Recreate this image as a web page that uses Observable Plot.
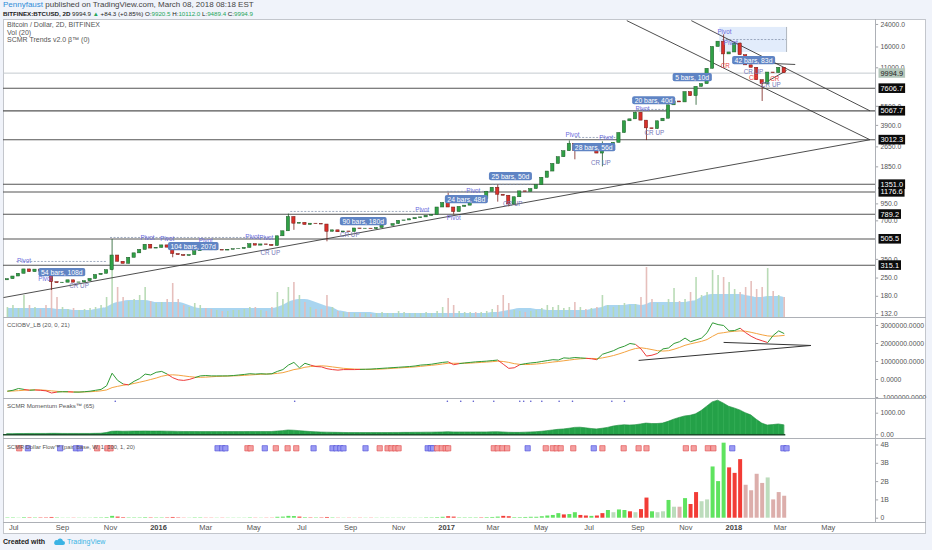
<!DOCTYPE html>
<html><head><meta charset="utf-8">
<script src="https://cdn.jsdelivr.net/npm/d3@7"></script>
<script src="https://cdn.jsdelivr.net/npm/@observablehq/plot@0.6"></script>
<style>
body{margin:0;background:#f0f3fa;}
#wrap{position:relative;width:932px;height:550px;overflow:hidden;background:#f0f3fa;font-family:"Liberation Sans",Arial,sans-serif;}
#panel{position:absolute;left:3px;top:19px;width:923px;height:515px;background:#fff;border:1px solid #c3c6cc;box-sizing:border-box;}
.sep{position:absolute;left:3px;width:923px;height:1.5px;background:#adb0b6;}
.txt{position:absolute;white-space:nowrap;font-size:7px;line-height:8px;color:#555;}
#wrap svg{background:transparent !important;}
</style></head><body>
<div id="wrap">
  <div class="txt" style="left:3px;top:1px;font-size:8px;color:#444"><span style="color:#2f8cd8">Pennyfaust</span> published on TradingView.com, March 08, 2018 08:18 EST</div>
  <div class="txt" style="left:3px;top:9.5px;font-size:6.2px;color:#222"><b>BITFINEX:BTCUSD, 2D</b> 9994.9 <span style="color:#26a65b">▲</span> +84.3 (+0.85%) O:<span style="color:#26a65b">9920.5</span> H:<span style="color:#26a65b">10112.0</span> L:<span style="color:#26a65b">9489.4</span> C:<span style="color:#26a65b">9994.9</span></div>
  <div id="panel"></div>
  <div id="plots"></div>
  <div class="sep" style="top:316.5px"></div>
  <div class="sep" style="top:397.5px"></div>
  <div class="sep" style="top:437.5px"></div>
  <div class="sep" style="top:521.5px;height:1px"></div>
  <div style="position:absolute;left:875px;top:19px;width:1px;height:503px;background:#adb0b6"></div>
  <div class="txt" style="left:7px;top:21px">Bitcoin / Dollar, 2D, BITFINEX</div>
  <div class="txt" style="left:7px;top:28.5px">Vol (20)</div>
  <div class="txt" style="left:7px;top:36px">SCMR Trends v2.0 β™ (0)</div>
  <div class="txt" style="left:7px;top:320.5px;font-size:6px">CCIOBV_LB (20, 0, 21)</div>
  <div class="txt" style="left:7px;top:401.5px;font-size:6.1px">SCMR Momentum Peaks™ (65)</div>
  <div class="txt" style="left:7px;top:442.5px;font-size:5.8px">SCMR Dollar Flow™ (pair, base, W, 1, 100, 1, 20)</div>
  <div class="txt" style="left:3px;top:538px;color:#222;font-weight:bold">Created with
    <svg width="12" height="8" viewBox="0 0 12 8" style="vertical-align:middle;margin-left:6px"><path d="M3 7h7a2 2 0 0 0 0-4 3 3 0 0 0-5.6-.8A2.2 2.2 0 0 0 3 7z" fill="#3bb3e4"/></svg>
    <span style="color:#3bb3e4;font-weight:normal">TradingView</span></div>
</div>
<script>
// ---------------- DATA ----------------
// weekly candles starting 2015-06-20
const weekStart = "2015-06-20";
const closes = [245,257,270,292,278,291,281,264,232,228,
230,240,230,231,236,246,264,270,288,375,
335,323,360,390,415,455,425,430,450,432,
385,378,372,378,405,438,420,412,413,410,
416,420,422,430,460,448,458,454,445,530,
580,750,665,675,650,665,660,655,575,590,
570,578,573,610,605,608,603,615,640,640,
660,700,705,720,735,745,765,780,890,965,
890,820,900,920,1010,1000,1035,1180,1270,1120,
1100,940,1070,1190,1180,1240,1330,1520,1700,1950,
2200,2450,2800,2450,2700,2480,2550,2350,2700,2750,
2850,3400,4200,4350,4900,4250,3700,3650,4200,4400,
5600,6000,5900,7100,6600,7800,8200,10800,16000,17600,
14000,14500,17000,13800,11500,11000,8800,8200,10100,10000,
11000,9995];
const firstOpen = 240;
const wickWeek = [8,19,30,51,52,58,80,81,89,91,102,103,108,114,116,125,130,133,137];
const wickLow  = [200,285,360,0,590,480,0,780,980,900,0,2100,1850,0,2970,5600,11000,0,6000];
const wickHigh = [0,500,0,790,0,0,1150,0,1330,0,2950,0,2900,4950,0,0,19900,17200,0];

const volume = [10,12,9,22,12,10,8,12,39,20,
10,8,9,7,8,9,10,12,20,57,
30,20,16,18,22,30,16,14,15,18,
34,18,12,10,14,12,9,8,7,6,
6,7,7,8,10,10,7,6,10,25,
18,30,35,22,15,10,8,8,22,10,
6,5,5,4,4,4,3,4,5,4,
4,6,5,4,4,4,5,4,6,10,
19,12,6,5,5,5,5,6,8,12,
22,14,7,6,5,6,7,9,12,10,
12,9,10,15,10,8,9,10,22,12,
10,12,14,12,13,20,50,18,14,12,
18,29,16,18,25,40,22,25,47,42,
40,35,28,25,30,36,28,30,49,26,
22,20];
const volumeMA = [9,9,9,9,9,9,9,9,9,8,
8,8,7,7,7,7,8,9,10,13,
15,16,17,17,17,17,16,15,15,15,
15,15,14,12,10,9,9,9,9,9,
9,9,9,9,9,9,9,9,9,10,
12,15,17,18,18,17,15,13,11,10,
7,6,5,5,5,5,5,4,4,4,
4,4,4,4,4,4,4,4,4,4,
4,4,4,4,4,4,4,4,5,5,
6,7,8,9,9,9,8,8,7,7,
7,7,7,7,7,7,8,9,10,12,
12,12,12,13,13,12,13,15,15,15,
15,15,15,15,16,17,20,22,23,23,
23,23,23,23,22,21,20,20,21,21,
21,20];

// CCIOBV (millions)
const obv = [-0.65,-0.6,-0.5,-0.55,-0.6,-0.58,-0.6,-0.63,-0.75,-0.7,
-0.68,-0.68,-0.7,-0.7,-0.68,-0.65,-0.6,-0.55,-0.35,0.35,
-0.05,-0.25,-0.3,-0.1,0.05,0.3,0.25,0.4,0.45,0.3,
0.1,-0.02,-0.05,0,0.1,0.2,0.22,0.2,0.2,0.2,
0.2,0.22,0.25,0.28,0.32,0.3,0.32,0.3,0.32,0.45,
0.55,0.8,0.95,0.65,0.9,0.8,0.72,0.7,0.6,0.55,
0.52,0.55,0.55,0.55,0.56,0.57,0.58,0.6,0.62,0.64,
0.66,0.68,0.7,0.72,0.75,0.8,0.82,0.85,0.9,0.95,
0.98,0.82,0.88,0.92,0.95,0.98,1.0,1.02,1.05,1.08,
0.85,0.62,0.65,0.82,0.88,0.92,0.95,1.0,1.05,1.1,
1.08,1.2,1.18,1.22,1.2,1.18,1.15,1.1,1.4,1.5,
1.6,1.75,1.85,2.0,1.95,1.7,1.3,1.35,1.45,1.7,
1.75,2.0,2.1,2.3,2.1,2.2,2.3,2.6,3.15,3.05,
3.0,2.7,2.72,2.85,2.6,2.4,2.25,2.15,2.05,2.45,
2.7,2.55];
const obvMA = [-0.65,-0.64,-0.62,-0.6,-0.58,-0.58,-0.58,-0.6,-0.63,-0.66,
-0.68,-0.69,-0.69,-0.7,-0.69,-0.68,-0.66,-0.63,-0.58,-0.45,
-0.38,-0.32,-0.28,-0.22,-0.15,-0.08,0.0,0.08,0.18,0.24,
0.26,0.24,0.2,0.16,0.13,0.12,0.13,0.15,0.17,0.18,
0.19,0.2,0.21,0.23,0.25,0.27,0.29,0.3,0.31,0.34,
0.38,0.46,0.55,0.6,0.68,0.72,0.74,0.76,0.74,0.7,
0.66,0.62,0.6,0.58,0.57,0.56,0.56,0.57,0.58,0.6,
0.62,0.64,0.66,0.68,0.7,0.73,0.76,0.79,0.82,0.86,
0.9,0.9,0.9,0.9,0.91,0.93,0.95,0.97,0.99,1.02,
1.0,0.95,0.88,0.84,0.83,0.84,0.86,0.89,0.93,0.97,
1.0,1.04,1.08,1.12,1.15,1.17,1.17,1.16,1.2,1.26,
1.33,1.42,1.52,1.63,1.72,1.76,1.72,1.66,1.6,1.58,
1.6,1.68,1.78,1.9,1.98,2.05,2.12,2.22,2.4,2.56,
2.6,2.65,2.68,2.7,2.68,2.62,2.55,2.48,2.42,2.4,
2.42,2.45];

const momentum = [30,30,35,35,40,40,40,40,45,45,
40,40,40,40,40,40,45,50,80,140,
150,140,145,150,150,155,150,150,150,145,
140,135,130,130,130,125,125,125,125,125,
125,125,125,125,130,130,130,130,130,150,
170,200,190,170,150,130,115,105,100,95,
90,85,80,80,80,80,80,80,80,80,
85,85,90,90,95,95,100,100,105,110,
120,110,110,110,110,110,110,110,115,120,
110,95,90,90,100,110,120,140,170,200,
230,250,280,320,330,300,270,250,280,320,
380,420,440,430,440,480,520,500,500,520,
600,700,780,850,880,950,1100,1300,1500,1580,
1450,1300,1220,1130,1000,900,700,520,430,450,
480,440];

// Dollar flow (billions), kind: G bright green, R bright red, g faded green, r faded red
const dollarFlow = [0.02,0.02,0.01,0.03,0.02,0.02,0.02,0.02,0.04,0.02,
0.01,0.01,0.01,0.01,0.01,0.01,0.02,0.02,0.03,0.1,
0.06,0.03,0.02,0.02,0.02,0.03,0.02,0.02,0.02,0.02,
0.04,0.02,0.01,0.01,0.02,0.02,0.01,0.01,0.01,0.01,
0.01,0.01,0.01,0.01,0.02,0.01,0.01,0.01,0.01,0.05,
0.06,0.1,0.09,0.06,0.03,0.02,0.02,0.02,0.04,0.02,
0.01,0.01,0.01,0.01,0.01,0.01,0.01,0.01,0.01,0.01,
0.01,0.01,0.01,0.01,0.01,0.01,0.02,0.02,0.03,0.05,
0.08,0.06,0.02,0.02,0.02,0.02,0.02,0.03,0.04,0.06,
0.1,0.08,0.03,0.03,0.04,0.05,0.05,0.08,0.12,0.15,
0.25,0.18,0.2,0.3,0.15,0.12,0.1,0.12,0.25,0.42,
0.3,0.45,0.42,0.35,0.3,0.47,1.1,0.35,0.3,0.35,
0.97,0.6,0.6,1.07,0.75,1.4,0.9,1.0,2.8,2.0,
4.1,2.75,2.45,3.2,1.8,1.5,2.4,1.9,2.2,1.0,
1.4,1.2];
const dollarKind = "GGGGRGRRRG" + "GGRGGGGGGG" + "RRGGGGRGGR" + "RRRGGGRRGR" + "GGGGGRGRRG" +
  "GGGRGRGRRG" + "RGRGRGRGGG" + "GGGGGGGGGG" + "RRGGGGRGGG" + "RRGGGGGGGG" +
  "GRGGRRGRRG" + "gGGRgRRGgg" + "GgrGRRggGG" + "GRRRrrrrgr" + "rr";

const flagDates = ["2015-07-08","2015-07-19","2015-08-29","2015-09-18","2015-09-23","2015-10-15","2015-10-28","2015-11-01",
"2016-03-16","2016-03-22","2016-03-26","2016-04-23","2016-04-27","2016-05-15","2016-05-29","2016-06-13","2016-06-24",
"2016-07-16","2016-08-09","2016-08-14","2016-08-19","2016-08-23","2016-09-20","2016-10-08","2016-10-18","2016-10-23",
"2016-10-28","2016-11-01","2016-12-08","2016-12-12","2016-12-15","2016-12-20","2016-12-26","2016-12-31","2017-01-03",
"2017-03-02","2017-03-07","2017-03-13","2017-03-19","2017-04-14","2017-05-07","2017-05-16","2017-05-21","2017-05-26",
"2017-06-11","2017-07-07","2017-07-18","2017-08-14","2017-09-02","2017-09-12","2017-11-01","2017-11-11","2017-11-29",
"2017-12-06","2017-12-30","2018-03-05","2018-03-09"];
const flagKinds = "rbbbbrrr" + "bbbrrbrrr" + "bbbbbbrrr" + "rrbbbrrrr" + "rrrrbrrrr" + "rbrrrrrrr" + "rbbb";

const momentumDots = ["2015-11-07","2016-06-22","2017-01-02","2017-01-19","2017-02-04","2017-03-02","2017-04-04",
"2017-04-09","2017-04-18","2017-05-02","2017-05-24","2017-06-10","2017-07-30","2017-08-15"];

// price axis
const priceTicks = [24000,16000,11000,5500,3900,2650,1850,950,700,350,250,180,132];
const levels = [7606.7,5067.7,3012.3,1351.0,1176.6,789.2,505.5,315.1];
const lastPrice = 9994.9;

// trend lines [date1, price1, date2, price2]
const trendStart = ["2015-06-18","2017-08-18","2017-11-08","2018-02-19","2018-02-08"];
const trendP1    = [176,25700,25700,11890,8300];
const trendEnd   = ["2018-06-23","2018-06-23","2018-06-23","2018-03-20","2018-03-09"];
const trendP2    = [3012.3,3012.3,5067.7,11680,10490];

// dashed pivot ranges
const pivFrom = ["2015-07-05","2015-11-01","2016-06-17","2017-01-02","2017-02-28","2017-06-14","2017-09-01","2017-12-18"];
const pivTo   = ["2015-10-28","2016-05-22","2016-12-11","2017-02-26","2017-04-19","2017-08-04","2017-10-09","2018-03-09"];
const pivPrice= [337,519,829,1190,1350,3140,5200,18300];

// projection box
const boxFrom = "2017-12-14", boxTo = "2018-03-09", boxLow = 14500, boxHigh = 22740;

// bar count labels
const barDates = ["2015-08-31","2016-02-14","2016-09-17","2017-01-26","2017-03-23","2017-07-07","2017-09-21","2017-11-09","2018-01-26"];
const barPrices = [277,441,692,1028,1556,2622,6100,9250,12550];
const barTexts = ["54 bars, 108d","104 bars, 207d","90 bars, 180d","24 bars, 48d","25 bars, 50d","28 bars, 56d","20 bars, 40d","5 bars, 10d","42 bars, 83d"];

// small annotations
const annDates = ["2015-07-14","2015-08-10","2015-09-22","2015-12-18","2016-01-12","2016-03-01","2016-04-29","2016-05-17","2016-05-22",
"2016-08-31","2016-12-01","2017-01-10","2017-02-04","2017-03-26","2017-06-10","2017-07-23","2017-07-16","2017-09-07","2017-09-22",
"2017-12-20","2017-12-28","2017-12-21","2018-01-26","2018-01-26","2018-02-17","2018-02-22"];
const annPrices = [343,244,215,510,501,483,519,510,396,538,859,731,1188,940,3255,3085,1967,5200,3375,20780,17050,11270,10120,9080,8010,8920];
const annTexts = ["Pivot","Pivot","CR UP","Pivot","Pivot","Pivot","Pivot","Pivot","CR UP","CR UP","Pivot","Pivot","Pivot","CR UP",
"Pivot","Pivot","CR UP","Pivot","CR UP","Pivot","Pivot","CR","CR UP","CR","CR UP","CR"];

const cciTicks = [3,2,1,0,-1];
const momTicks = [1000,0];
const dfTicks = [4,3,2,1,0];
const dateTicks = ["2015-07-01","2015-09-01","2015-11-01","2016-01-01","2016-03-01","2016-05-01","2016-07-01","2016-09-01","2016-11-01",
"2017-01-01","2017-03-01","2017-05-01","2017-07-01","2017-09-01","2017-11-01","2018-01-01","2018-03-01","2018-05-01"];
const dateLabels = ["Jul","Sep","Nov","2016","Mar","May","Jul","Sep","Nov","2017","Mar","May","Jul","Sep","Nov","2018","Mar","May"];

// CCIOBV trend lines
const cciLineStart = ["2017-09-02","2017-12-19"], cciLineV1 = [1.06,2.06];
const cciLineEnd = ["2018-04-09","2018-04-09"], cciLineV2 = [1.89,1.89];

// ---------------- BUILD ----------------
const FONT = "Liberation Sans, Arial, sans-serif";
const AX = 6.8; // axis font size
const D = s => new Date(s + "T00:00:00Z");
const xDomain = [D("2015-06-18"), D("2018-06-30")];
const axisTickEnd = D("2018-07-04");
const w0 = D(weekStart);
const weeks = closes.map((c, i) => {
  const open = i ? closes[i-1] : firstOpen;
  const k = wickWeek.indexOf(i);
  const hi = Math.max(open, c, k >= 0 ? wickHigh[k] : 0);
  const lo = Math.min(open, c, k >= 0 && wickLow[k] ? wickLow[k] : Infinity);
  return {
    date: d3.utcDay.offset(w0, 7*i + 3), open, close: c, hi, lo, up: c >= open,
    vol: volume[i], volMA: volumeMA[i], obv: obv[i], ma: obvMA[i], mom: momentum[i],
    df: dollarFlow[i], kind: dollarKind[i]
  };
});
const base = (h, mt=0, mb=0) => ({width: 932, height: h, marginLeft: 3, marginRight: 57, marginTop: mt, marginBottom: mb,
  x: {type: "utc", domain: xDomain, axis: null},
  style: {background: "transparent", fontFamily: FONT, fontSize: "7px", overflow: "hidden"}});
const tickMark = (arr) => Plot.ruleY(arr, {y: d => d, x1: () => xDomain[1], x2: () => axisTickEnd, stroke: "#8a8d93", strokeWidth: 0.8});
const tickText = (arr, fmt) => Plot.text(arr, {y: d => d, text: fmt, frameAnchor: "right", dx: 5, textAnchor: "start", fill: "#555", fontSize: AX});

// volume overlay (behind price)
const volPlot = Plot.plot({...base(298), y: {domain: [0, 298], axis: null},
  marks: [
    Plot.areaY(weeks, {x: "date", y: "volMA", fill: "#93cbec", fillOpacity: 0.8, curve: "monotone-x"}),
    Plot.ruleX(weeks, {x: "date", y1: 0, y2: "vol", stroke: d => d.up ? "#b5d9b2" : "#e5bcb8", strokeWidth: 1.6, strokeOpacity: 0.95})
  ]});

const trends = trendStart.map((s, i) => ({x1: D(s), y1: trendP1[i], x2: D(trendEnd[i]), y2: trendP2[i]}));
const pivots = pivFrom.map((s, i) => ({x1: D(s), x2: D(pivTo[i]), y: pivPrice[i]}));
const bars = barDates.map((s, i) => ({date: D(s), p: barPrices[i], t: barTexts[i]}));
const anns = annDates.map((s, i) => ({date: D(s), p: annPrices[i], t: annTexts[i]}));
const annColor = t => t === "Pivot" ? "#6b6bdc" : t === "CR" ? "#e84545" : "#7678b8";
const half = 50; // hours half-width of candle body

const mainPlot = Plot.plot({...base(298), y: {type: "log", domain: [122.9, 26240], axis: null},
  marks: [
    Plot.rect([0], {x1: () => D(boxFrom), x2: () => D(boxTo), y1: () => boxLow, y2: () => boxHigh, fill: "#dde9fa", fillOpacity: 0.85}),
    Plot.ruleX([0], {x: () => D(boxTo), y1: () => boxLow, y2: () => boxHigh, stroke: "#9aa3ad", strokeWidth: 0.8}),
    Plot.ruleY(levels, {y: d => d, stroke: "#555", strokeWidth: 1.1}),
    Plot.ruleY([lastPrice], {y: d => d, stroke: "#c5cacf", strokeWidth: 1}),
    Plot.ruleY(pivots, {y: "y", x1: "x1", x2: "x2", stroke: "#8795ae", strokeWidth: 0.8, strokeDasharray: "2,1.5"}),
    Plot.link(trends, {x1: "x1", y1: "y1", x2: "x2", y2: "y2", stroke: "#3a3a3a", strokeWidth: 0.9}),
    Plot.ruleX(weeks, {x: "date", y1: "lo", y2: "hi", stroke: d => d.up ? "#1f5a29" : "#7a1f1a", strokeWidth: 0.8}),
    Plot.rect(weeks, {x1: d => d3.utcHour.offset(d.date, -half), x2: d => d3.utcHour.offset(d.date, half),
      y1: "open", y2: "close", fill: d => d.up ? "#30a046" : "#d8302a", stroke: d => d.up ? "#1f5a29" : "#6e1a16", strokeWidth: 0.5}),
    Plot.text(anns, {x: "date", y: "p", text: "t", fill: d => annColor(d.t), fontSize: 6.3}),
    Plot.text(bars, {x: "date", y: "p", text: "t", fill: "white", fontSize: 6.8}),
    tickMark(priceTicks),
    tickText(priceTicks, d => d.toFixed(1)),
    Plot.text([lastPrice], {y: d => d, text: d => d.toFixed(1), frameAnchor: "right", dx: 5, textAnchor: "start", fill: "#222", fontSize: 7.4}),
    Plot.text(levels, {y: d => d, text: d => d.toFixed(1), frameAnchor: "right", dx: 5, textAnchor: "start", fill: "white", fontSize: 7.4})
  ]});

const segs = weeks.slice(1).map((d, i) => ({x1: weeks[i].date, y1: weeks[i].obv, x2: d.date, y2: d.obv, up: d.obv >= d.ma}));
const cciLines = cciLineStart.map((s, i) => ({x1: D(s), y1: cciLineV1[i], x2: D(cciLineEnd[i]), y2: cciLineV2[i]}));
const cciPlot = Plot.plot({...base(81), y: {domain: [-1.056, 3.444], axis: null},
  marks: [
    Plot.line(weeks, {x: "date", y: "ma", stroke: "#f4a340", strokeWidth: 1}),
    Plot.link(segs, {x1: "x1", y1: "y1", x2: "x2", y2: "y2", stroke: d => d.up ? "#2f9a34" : "#ee3b3b", strokeWidth: 1}),
    Plot.link(cciLines, {x1: "x1", y1: "y1", x2: "x2", y2: "y2", stroke: "#333", strokeWidth: 1}),
    tickMark(cciTicks),
    tickText(cciTicks, d => (d * 1e6).toFixed(4))
  ]});

const momPlot = Plot.plot({...base(40), y: {domain: [-171, 1680], axis: null},
  marks: [
    Plot.areaY(weeks, {x: "date", y: "mom", fill: "#24a148", stroke: "#1b8a3b", strokeWidth: 0.6}),
    Plot.ruleX(weeks, {x: "date", y1: 0, y2: "mom", stroke: "#4fc06d", strokeWidth: 0.6, strokeOpacity: 0.6}),
    Plot.ruleY([0], {y: d => d, x1: () => xDomain[0], x2: () => D("2018-03-08"), stroke: "#1d4f2c", strokeWidth: 1.4}),
    Plot.dot(momentumDots, {x: d => D(d), y: () => 1550, r: 0.8, fill: "#5555cc", stroke: "none"}),
    tickMark(momTicks),
    tickText(momTicks, d => d.toFixed(2))
  ]});

const kindColor = {G: "#5fe35f", R: "#f23c36", g: "#bcdcbc", r: "#dcaeab"};
const flags = flagDates.map((s, i) => ({date: D(s), k: flagKinds[i]}));
const ticks = dateTicks.map((s, i) => ({date: D(s), t: dateLabels[i], year: /^\d{4}$/.test(dateLabels[i])}));
const dfPlot = Plot.plot({...base(96, 0, 12), y: {domain: [-0.235, 4.355], axis: null},
  marks: [
    Plot.ruleX(weeks, {x: "date", y1: 0, y2: "df", stroke: d => kindColor[d.kind], strokeWidth: 4}),
    Plot.dot(flags, {x: "date", y: () => 3.82, symbol: "square", r: 3, fill: d => d.k === "r" ? "#f4a0a0" : "#9b9bf3",
      stroke: d => d.k === "r" ? "#e04a4a" : "#4b4bd8", strokeWidth: 0.6}),
    tickMark(dfTicks),
    tickText(dfTicks, d => d === 0 ? "0" : d + "B"),
    Plot.text(ticks.filter(d => !d.year), {x: "date", text: "t", frameAnchor: "bottom", dy: 7, fill: "#555", fontSize: 7.5}),
    Plot.text(ticks.filter(d => d.year), {x: "date", text: "t", frameAnchor: "bottom", dy: 7, fill: "#444", fontSize: 7.5, fontWeight: "bold"})
  ]});

const host = document.getElementById("plots");
[[volPlot, 19], [mainPlot, 19], [cciPlot, 317], [momPlot, 398], [dfPlot, 438]].forEach(([p, top]) => {
  p.style.position = "absolute"; p.style.left = "0px"; p.style.top = top + "px";
  host.appendChild(p);
});

// label backgrounds, placed behind the matching texts
const levelStr = levels.map(d => d.toFixed(1));
const curStr = lastPrice.toFixed(1);
function addBoxes(svg, test, fill, px, py, rx) {
  Array.from(svg.querySelectorAll("text")).forEach(t => {
    if (!test(t.textContent)) return;
    const b = t.getBBox();
    const r = document.createElementNS("http://www.w3.org/2000/svg", "rect");
    r.setAttribute("x", b.x - px); r.setAttribute("y", b.y - py);
    r.setAttribute("width", b.width + 2*px); r.setAttribute("height", b.height + 2*py);
    r.setAttribute("rx", rx); r.setAttribute("fill", fill); r.setAttribute("stroke", "none");
    const tr = t.getAttribute("transform"); if (tr) r.setAttribute("transform", tr);
    t.parentNode.insertBefore(r, t);
  });
}
addBoxes(mainPlot, s => s.includes("bars,"), "#5f84c4", 2.5, 0.6, 2);
addBoxes(mainPlot, s => levelStr.includes(s), "#0b0b0b", 2, 0.3, 0);
addBoxes(mainPlot, s => s === curStr, "#b4c7bb", 2, 0.3, 0);
</script>
</body></html>
